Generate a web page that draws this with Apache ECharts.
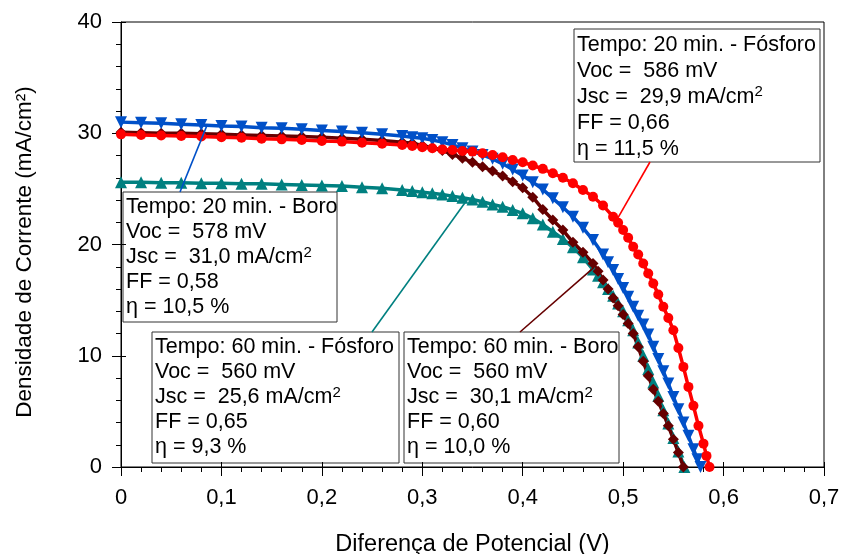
<!DOCTYPE html>
<html>
<head>
<meta charset="utf-8">
<script src="https://cdn.jsdelivr.net/npm/echarts@6/dist/echarts.min.js"></script>
<style>
html,body{margin:0;padding:0;background:#fff;}
#c{width:841px;height:554px;}
</style>
</head>
<body>
<div id="c"></div>
<script>
// ---- Data ----
const xTickLabels = ['0','0,1','0,2','0,3','0,4','0,5','0,6','0,7'];
const yTickLabels = ['0','10','20','30','40'];

// 20 min. - Fósforo (red, circles)
const vRed = [0,0.02,0.04,0.06,0.08,0.10,0.12,0.14,0.16,0.18,0.20,0.22,0.24,0.26,0.28,
  0.29,0.30,0.31,0.32,0.33,0.34,0.35,0.36,0.37,0.38,0.39,0.40,0.41,0.42,0.43,0.44,0.45,0.46,0.47,0.48,0.49,
  0.495,0.50,0.505,0.51,0.515,0.52,0.525,0.53,0.535,0.54,0.545,0.55,0.555,0.56,0.565,0.57,0.575,0.58,0.583,0.586];
const jRed = [29.9,29.85,29.8,29.75,29.7,29.65,29.6,29.5,29.45,29.4,29.3,29.25,29.15,29.05,28.95,
  28.85,28.75,28.65,28.55,28.5,28.4,28.35,28.2,28.05,27.85,27.6,27.4,27.1,26.8,26.4,26.0,25.5,24.9,24.3,23.5,22.5,
  21.95,21.3,20.6,19.8,19.1,18.3,17.4,16.5,15.5,14.4,13.4,12.3,10.7,9.0,7.2,5.5,3.7,2.1,1.0,0];

// 20 min. - Boro (blue, down triangles)
const vBlue = [0,0.02,0.04,0.06,0.08,0.10,0.12,0.14,0.16,0.18,0.20,0.22,0.24,0.26,0.28,
  0.29,0.30,0.31,0.32,0.33,0.34,0.35,0.36,0.37,0.38,0.39,0.40,0.41,0.42,0.43,0.44,0.45,0.46,0.47,0.48,
  0.485,0.49,0.495,0.50,0.505,0.51,0.515,0.52,0.525,0.53,0.535,0.54,0.545,0.55,0.555,0.56,0.565,0.57,0.574,0.577];
const jBlue = [31.0,30.95,30.9,30.8,30.75,30.65,30.6,30.5,30.45,30.35,30.25,30.15,30.05,29.9,29.75,
  29.65,29.55,29.4,29.2,28.95,28.65,28.35,28.05,27.7,27.25,26.75,26.2,25.6,24.95,24.15,23.35,22.5,21.5,20.4,19.1,
  18.4,17.7,16.9,16.1,15.3,14.4,13.6,12.8,11.9,10.8,9.7,8.6,7.5,6.3,5.2,4.0,2.8,1.6,0.7,0];

// 60 min. - Boro (dark red, diamonds)
const vDark = [0,0.02,0.04,0.06,0.08,0.10,0.12,0.14,0.16,0.18,0.20,0.22,0.24,0.26,0.28,
  0.29,0.30,0.31,0.32,0.33,0.34,0.35,0.36,0.37,0.38,0.39,0.40,0.41,0.42,0.43,0.44,0.45,0.46,0.47,0.475,
  0.48,0.485,0.49,0.495,0.50,0.505,0.51,0.515,0.52,0.525,0.53,0.535,0.54,0.545,0.55,0.555,0.56];
const jDark = [30.1,30.05,30.0,30.0,29.95,29.9,29.85,29.8,29.75,29.7,29.65,29.55,29.45,29.35,29.2,
  29.1,28.9,28.7,28.45,28.1,27.75,27.4,27.0,26.6,26.15,25.65,25.1,24.25,23.15,22.2,21.3,20.2,19.3,18.3,17.6,
  16.8,16.0,15.2,14.5,13.7,12.9,12.0,10.8,9.5,8.2,7.0,5.9,4.8,3.7,2.5,1.3,0];

// 60 min. - Fósforo (teal, up triangles)
const vTeal = [0,0.02,0.04,0.06,0.08,0.10,0.12,0.14,0.16,0.18,0.20,0.22,0.24,0.26,0.28,
  0.29,0.30,0.31,0.32,0.33,0.34,0.35,0.36,0.37,0.38,0.39,0.40,0.41,0.42,0.43,0.44,0.45,0.46,0.47,0.475,
  0.48,0.485,0.49,0.495,0.50,0.505,0.51,0.515,0.52,0.525,0.53,0.535,0.54,0.545,0.55,0.555,0.561];
const jTeal = [25.6,25.6,25.55,25.55,25.5,25.5,25.45,25.45,25.4,25.35,25.3,25.25,25.15,25.05,24.9,
  24.8,24.7,24.6,24.5,24.35,24.2,24.05,23.85,23.6,23.4,23.1,22.8,22.35,21.8,21.15,20.5,19.75,18.85,17.75,17.2,
  16.6,16.0,15.4,14.7,14.0,13.2,12.3,11.2,10.0,8.8,7.6,6.4,5.1,3.9,2.6,1.4,0];

// points on the curves where the annotation leader lines start [V, J]
const anchorRed = [0.4935, 22.2];
const anchorBlue = [0.086, 30.8];
const anchorTeal = [0.345, 24.06];
const anchorDark = [0.471, 17.95];

// annotation texts
const boxRed  = ['Tempo: 20 min. - Fósforo','Voc =  586 mV','Jsc =  29,9 mA/cm','FF = 0,66','η = 11,5 %'];
const boxBlue = ['Tempo: 20 min. - Boro','Voc =  578 mV','Jsc =  31,0 mA/cm','FF = 0,58','η = 10,5 %'];
const boxTeal = ['Tempo: 60 min. - Fósforo','Voc =  560 mV','Jsc =  25,6 mA/cm','FF = 0,65','η = 9,3 %'];
const boxDark = ['Tempo: 60 min. - Boro','Voc =  560 mV','Jsc =  30,1 mA/cm','FF = 0,60','η = 10,0 %'];
const yTitle = 'Densidade de Corrente (mA/cm²)';
const xTitle = 'Diferença de Potencial (V)';

// ---- Chart ----
const zip = (a, b) => a.map((v, i) => [v, b[i]]);
const FONT = 'Arial, "Liberation Sans", sans-serif';
const C_RED = '#ff0000', C_BLUE = '#0050c8', C_DARK = '#660000', C_TEAL = '#008080';

function richText(lines) {
  return lines.map((l, i) => i === 2 ? '{t|' + l + '}{s|2}' : '{t|' + l + '}').join('\n');
}
function box(x, y, w, h, lines, lh) {
  return {
    type: 'group', z: 100,
    children: [
      { type: 'rect', shape: { x: x, y: y, width: w, height: h },
        style: { fill: '#fff', stroke: '#333', lineWidth: 1 } },
      { type: 'text', x: x + 3, y: y + 3,
        style: { text: richText(lines), fill: '#000',
          rich: {
            t: { fontSize: 21.5, fontFamily: FONT, lineHeight: lh, fill: '#000' },
            s: { fontSize: 15, fontFamily: FONT, lineHeight: 17, verticalAlign: 'top', fill: '#000' }
          } } }
    ]
  };
}
function leader(color, anchor, px, py) {
  return {
    silent: true, symbol: ['none', 'none'], animation: false,
    label: { show: false },
    lineStyle: { color: color, width: 1.6, type: 'solid' },
    emphasis: { disabled: true },
    data: [[{ coord: anchor }, { x: px, y: py }]]
  };
}
function series(name, v, j, color, symbol, size, rotate, ml) {
  return {
    name: name, type: 'line', data: zip(v, j),
    symbol: symbol, symbolSize: size, symbolRotate: rotate,
    showAllSymbol: true,
    lineStyle: { color: color, width: 3.5 },
    itemStyle: { color: color },
    emphasis: { disabled: true },
    markLine: ml
  };
}

const chart = echarts.init(document.getElementById('c'), null, { renderer: 'canvas' });
const xAxisCommon = { type: 'value', min: 0, max: 0.7, interval: 0.1, splitLine: { show: false } };
const yAxisCommon = { type: 'value', min: 0, max: 40, interval: 10, splitLine: { show: false } };
chart.setOption({
  animation: false,
  backgroundColor: '#fff',
  grid: { left: 121, right: 17, top: 22, bottom: 87, show: true, borderColor: '#000', borderWidth: 1,
    containLabel: false, outerBoundsMode: 'none' },
  xAxis: [
    Object.assign({}, xAxisCommon, {
      position: 'bottom',
      name: xTitle, nameLocation: 'middle', nameGap: 66,
      nameTextStyle: { fontFamily: FONT, fontSize: 23.5, color: '#000' },
      axisLine: { lineStyle: { color: '#000', width: 1 } },
      axisTick: { show: true, length: 9, lineStyle: { color: '#000' } },
      minorTick: { show: true, splitNumber: 5, length: 5, lineStyle: { color: '#000' } },
      axisLabel: { fontFamily: FONT, fontSize: 22, color: '#000', margin: 20,
        formatter: (v) => xTickLabels[Math.round(v * 10)] }
    }),
    Object.assign({}, xAxisCommon, {
      position: 'bottom', offset: 0,
      axisLine: { show: false },
      axisTick: { show: true, inside: true, length: 5, lineStyle: { color: '#000' } },
      axisLabel: { show: false }
    })
  ],
  yAxis: [
    Object.assign({}, yAxisCommon, {
      position: 'left',
      axisLine: { show: true, lineStyle: { color: '#000', width: 1 } },
      axisTick: { show: true, length: 9, lineStyle: { color: '#000' } },
      minorTick: { show: true, splitNumber: 5, length: 5, lineStyle: { color: '#000' } },
      axisLabel: { fontFamily: FONT, fontSize: 22, color: '#000', margin: 19,
        formatter: (v) => yTickLabels[Math.round(v / 10)] }
    }),
    Object.assign({}, yAxisCommon, {
      position: 'left', offset: 0,
      axisLine: { show: false },
      axisTick: { show: true, inside: true, length: 5, lineStyle: { color: '#000' } },
      axisLabel: { show: false }
    })
  ],
  series: [
    series('60 min. - Fósforo', vTeal, jTeal, C_TEAL, 'triangle', 12, 0, leader(C_TEAL, anchorTeal, 372, 332)),
    series('60 min. - Boro', vDark, jDark, C_DARK, 'diamond', 11, 0, leader(C_DARK, anchorDark, 520, 332)),
    series('20 min. - Boro', vBlue, jBlue, C_BLUE, 'triangle', 12, 180, leader(C_BLUE, anchorBlue, 180, 192)),
    series('20 min. - Fósforo', vRed, jRed, C_RED, 'circle', 10, 0, leader(C_RED, anchorRed, 650, 162))
  ],
  graphic: [
    box(574, 29, 246, 133, boxRed, 26),
    box(123, 192, 214, 130, boxBlue, 25),
    box(152, 332, 247, 131, boxTeal, 25),
    box(404, 332, 215, 131, boxDark, 25),
    { type: 'text', x: 25, y: 252, rotation: Math.PI / 2,
      style: { text: yTitle, fontFamily: FONT, fontSize: 22.5, fill: '#000',
        align: 'center', verticalAlign: 'middle' } }
  ]
});
</script>
</body>
</html>
